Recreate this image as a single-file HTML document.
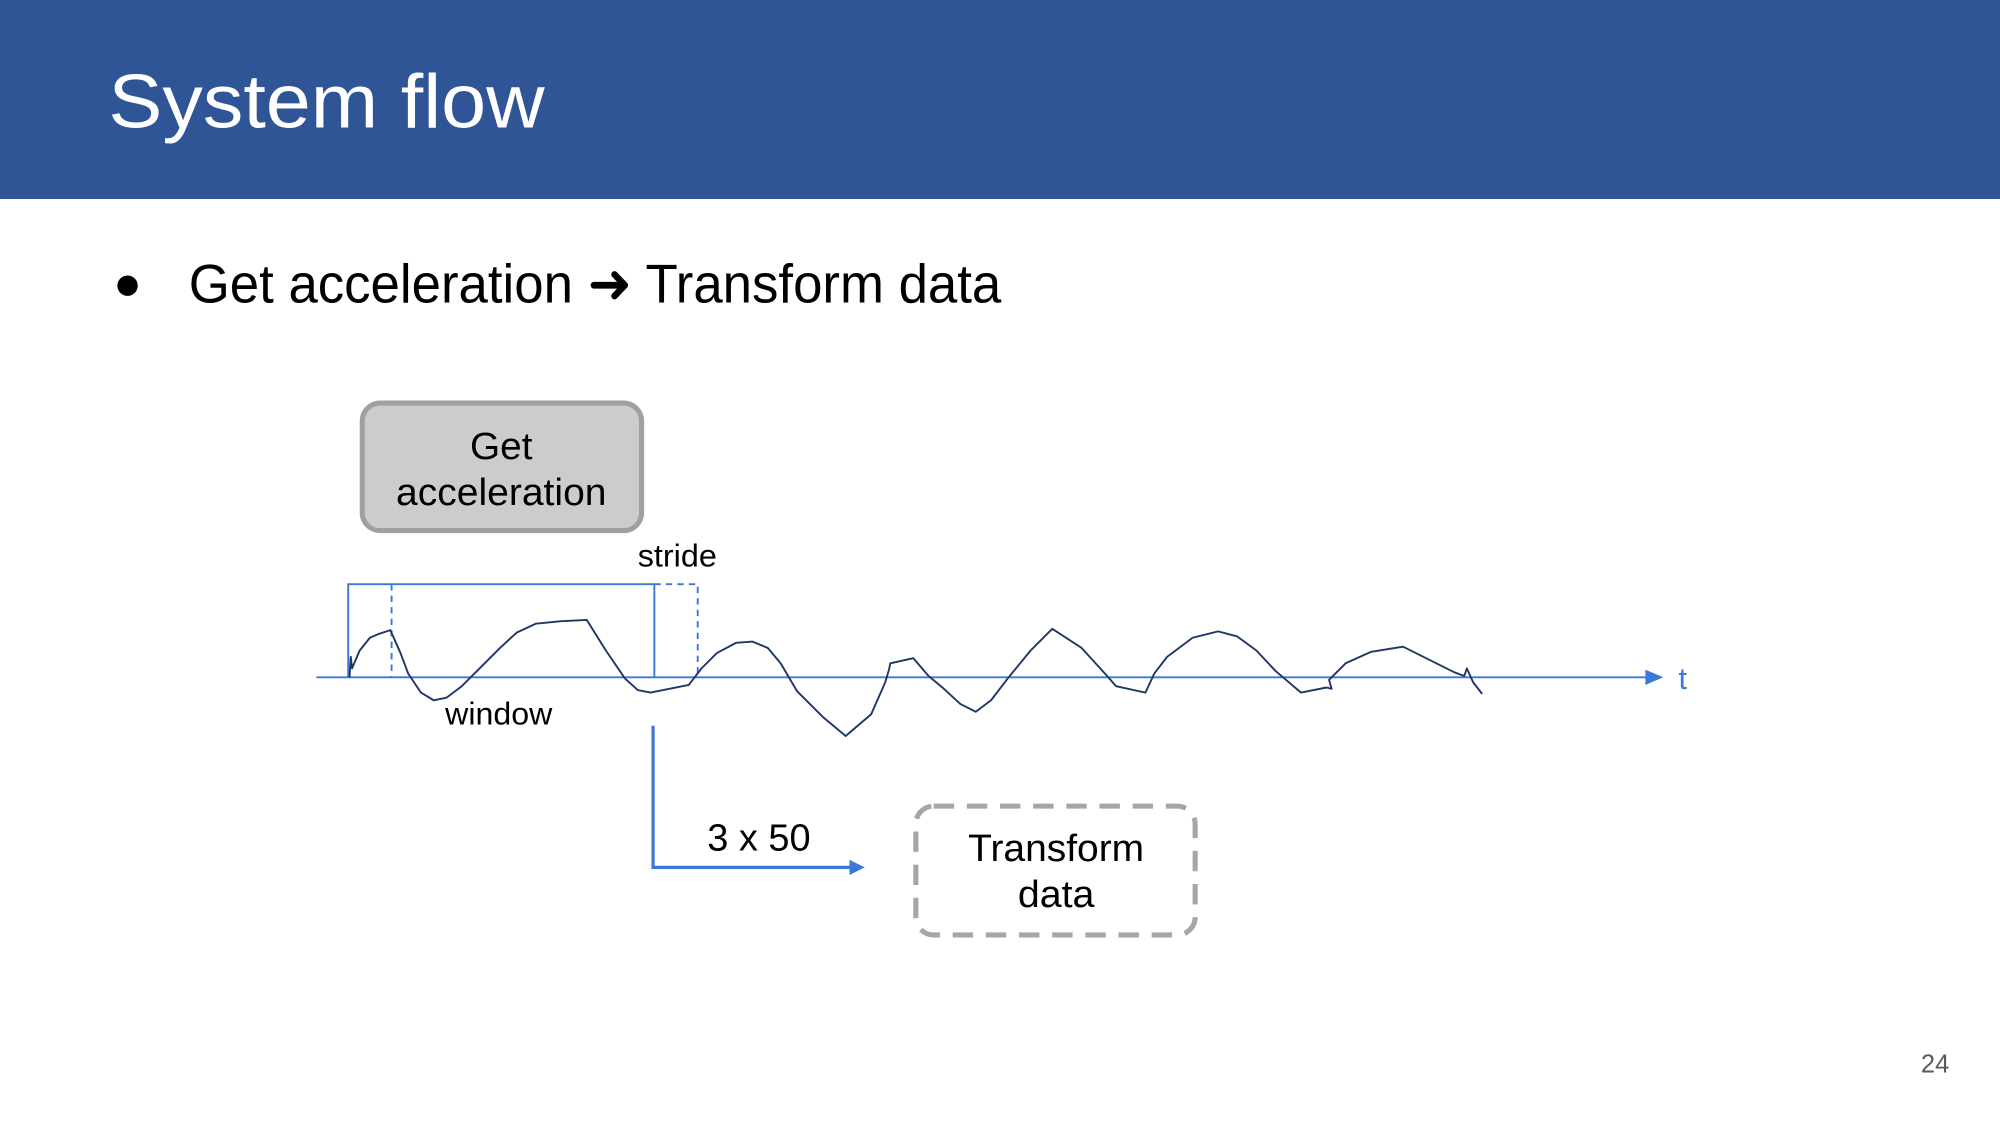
<!DOCTYPE html>
<html><head><meta charset="utf-8"><style>
html,body{margin:0;padding:0;background:#fff;}
svg{display:block;}
text{font-family:"Liberation Sans",sans-serif;}
</style></head><body>
<svg width="2000" height="1125" viewBox="0 0 1568 882" xmlns="http://www.w3.org/2000/svg">
<rect x="0" y="0" width="1568" height="156" fill="#2f5597"/>
<text x="85" y="100" font-size="60" fill="#fff" textLength="342" lengthAdjust="spacingAndGlyphs">System flow</text>
<circle cx="100" cy="224" r="8" fill="#000"/>
<text x="148" y="237" font-size="43" fill="#000" textLength="637" lengthAdjust="spacingAndGlyphs">Get acceleration ➜ Transform data</text>

<rect x="284" y="316" width="219" height="100" rx="14" fill="#cccccc" stroke="#a0a0a0" stroke-width="4"/>
<text x="393" y="360" font-size="30" text-anchor="middle" textLength="49" lengthAdjust="spacingAndGlyphs">Get</text>
<text x="393" y="396" font-size="30" text-anchor="middle" textLength="165" lengthAdjust="spacingAndGlyphs">acceleration</text>

<text x="500" y="444" font-size="25" textLength="62" lengthAdjust="spacingAndGlyphs">stride</text>
<text x="349" y="568" font-size="25" textLength="84" lengthAdjust="spacingAndGlyphs">window</text>

<g stroke="#3c78d8" fill="none" stroke-width="1.5">
<polyline points="273,531 273,458 513,458 513,531"/>
<line x1="307" y1="458" x2="307" y2="531" stroke-dasharray="5,4"/>
<polyline points="513,458 547,458 547,531" stroke-dasharray="5,4"/>
<line x1="248" y1="531" x2="1292" y2="531"/>
</g>
<polygon points="1290,525 1304,531 1290,537" fill="#3c78d8"/>
<text x="1316" y="540" font-size="24" fill="#3c78d8">t</text>

<polyline fill="none" stroke="#1f3864" stroke-width="1.5" stroke-linejoin="round"
points="274,531 275,515 276,524 282,510 290,500 297,497 306,494 314,512 320,528 330,543 340,549 350,547 362,538 375,525 392,508 405,496 420,489 440,487 460,486 475,510 490,532 500,541 510,543 540,537 550,524 562,512 577,504 590,503 602,508 612,520 625,542 645,562 663,577 683,560 694,535 697,525 698,520 716,516 728,530 740,540 753,552 765,558 777,549 790,532 808,510 825,493 848,508 868,530 875,538 898,543 905,528 915,515 935,500 955,495 970,499 985,510 1000,526 1020,543 1040,539 1044,540 1042,533 1055,520 1075,511 1100,507 1120,517 1140,527 1148,530 1150,524 1155,535 1162,544"/>

<polyline points="512,569 512,680 668,680" fill="none" stroke="#3c78d8" stroke-width="2.5"/>
<polygon points="666,674 678,680 666,686" fill="#3c78d8"/>
<text x="595" y="667" font-size="30" text-anchor="middle" textLength="81" lengthAdjust="spacingAndGlyphs">3 x 50</text>

<rect x="718" y="632" width="219" height="101" rx="14" fill="#fff" stroke="#a6a6a6" stroke-width="4" stroke-dasharray="16,10"/>
<text x="828" y="675" font-size="30" text-anchor="middle" textLength="138" lengthAdjust="spacingAndGlyphs">Transform</text>
<text x="828" y="711" font-size="30" text-anchor="middle" textLength="60" lengthAdjust="spacingAndGlyphs">data</text>

<text x="1506" y="841" font-size="20" fill="#595959">24</text>
</svg>
</body></html>
